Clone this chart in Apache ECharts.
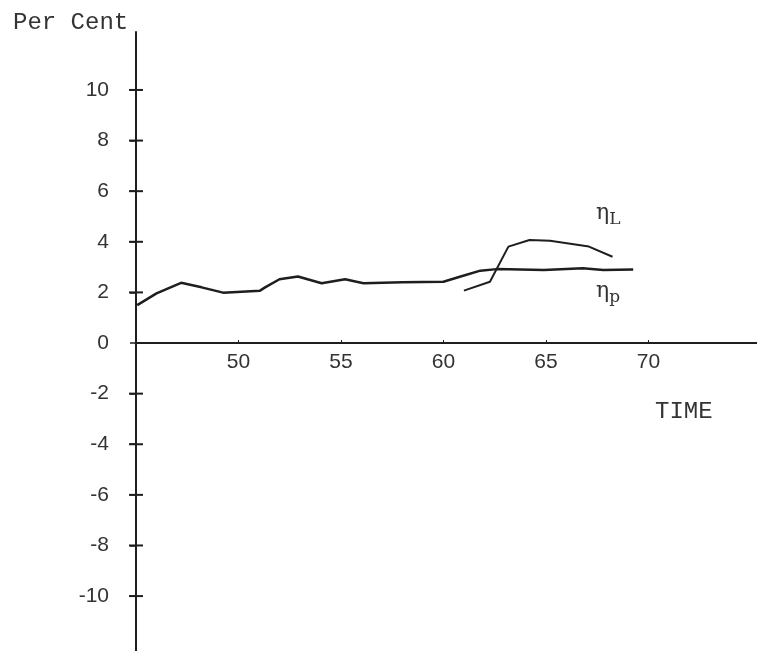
<!DOCTYPE html>
<html>
<head>
<meta charset="utf-8">
<script src="https://cdn.jsdelivr.net/npm/echarts@6/dist/echarts.min.js"></script>
<style>html,body{margin:0;padding:0;background:#fff;}#c{width:757px;height:651px;}</style>
</head>
<body>
<div id="c"></div>
<script>
// Data
const pYears  = [45.06, 46.0, 47.2, 48.2, 49.25, 51.05, 51.3, 52.0, 52.9, 54.06, 55.2, 56.1, 58.0, 60.0, 60.8, 61.8, 62.6, 64.9, 66.8, 67.8, 69.26];
const pValues = [1.50, 1.96, 2.38, 2.20, 1.99, 2.07, 2.20, 2.52, 2.63, 2.36, 2.52, 2.36, 2.40, 2.42, 2.62, 2.86, 2.92, 2.89, 2.95, 2.89, 2.91];
const lYears  = [61.0, 62.27, 63.17, 64.2, 65.2, 67.1, 68.25];
const lValues = [2.07, 2.42, 3.81, 4.07, 4.04, 3.81, 3.41];
const xTicks = [50, 55, 60, 65, 70];
const yTicks = [-10, -8, -6, -4, -2, 0, 2, 4, 6, 8, 10];
const yTitle = 'Per Cent';
const xTitle = 'TIME';

const chart = echarts.init(document.getElementById('c'));
const ink = '#1e1e1e';
const zip = (xs, ys) => xs.map((x, i) => [x, ys[i]]);
const X_MIN = 45, X_MAX = 75.3;
const Y_MIN = -12.17, Y_MAX = 12.29;
const GRID_TOP = 32, GRID_H = 619;
// distance from the grid bottom to the zero line
const zeroOffset = -(GRID_H * (0 - Y_MIN) / (Y_MAX - Y_MIN));
chart.setOption({
  animation: false,
  backgroundColor: '#fff',
  grid: {left: 136, right: 0, top: GRID_TOP, bottom: 0, containLabel: false, outerBoundsMode: 'none'},
  xAxis: {
    type: 'value', min: X_MIN, max: X_MAX, position: 'bottom', offset: zeroOffset,
    splitLine: {show: false},
    axisLine: {show: true, onZero: false, lineStyle: {color: ink, width: 2}},
    axisTick: {show: true, inside: true, length: 3, customValues: xTicks, lineStyle: {color: ink, width: 1}},
    axisLabel: {show: true, customValues: xTicks, margin: 9, color: '#333', fontFamily: 'Liberation Sans', fontSize: 21}
  },
  yAxis: {
    type: 'value', min: Y_MIN, max: Y_MAX, position: 'left',
    splitLine: {show: false},
    axisLine: {show: true, onZero: false, lineStyle: {color: ink, width: 2}},
    axisTick: {show: true, length: 6, customValues: yTicks, lineStyle: {color: ink, width: 1.5}},
    axisLabel: {show: true, customValues: yTicks, margin: 27, color: '#333', fontFamily: 'Liberation Sans', fontSize: 21}
  },
  series: [
    {name: 'ηp', type: 'line', data: zip(pYears, pValues), showSymbol: false, smooth: false,
     lineStyle: {color: ink, width: 2.5}},
    {name: 'ηL', type: 'line', data: zip(lYears, lValues), showSymbol: false, smooth: false,
     lineStyle: {color: ink, width: 2}},
    // tick marks that cross the vertical axis (right-hand half)
    {name: 'ticks', type: 'line', silent: true, clip: false, z: 5,
     data: yTicks.filter(v => v !== 0).map(v => [X_MIN, v]),
     lineStyle: {opacity: 0}, showSymbol: true, showAllSymbol: true,
     symbol: 'rect', symbolSize: [14, 2], itemStyle: {color: ink, opacity: 1}}
  ],
  graphic: [
    {type: 'text', left: 13, top: 11, style: {text: yTitle, font: '24px "Liberation Mono"', fill: '#333'}},
    {type: 'text', left: 655, top: 400, style: {text: xTitle, font: '24px "Liberation Mono"', fill: '#333'}},
    {type: 'text', left: 596, top: 202, style: {
      text: '{e|η}{s|L}',
      rich: {e: {fontFamily: 'DejaVu Serif', fontSize: 22, fill: '#333'},
             s: {fontFamily: 'DejaVu Serif', fontSize: 17, fill: '#333', padding: [14, 0, 0, 0]}}
    }},
    {type: 'text', left: 596, top: 280, style: {
      text: '{e|η}{s|p}',
      rich: {e: {fontFamily: 'DejaVu Serif', fontSize: 22, fill: '#333'},
             s: {fontFamily: 'DejaVu Serif', fontSize: 17, fill: '#333', padding: [14, 0, 0, 0]}}
    }}
  ]
});
</script>
</body>
</html>
